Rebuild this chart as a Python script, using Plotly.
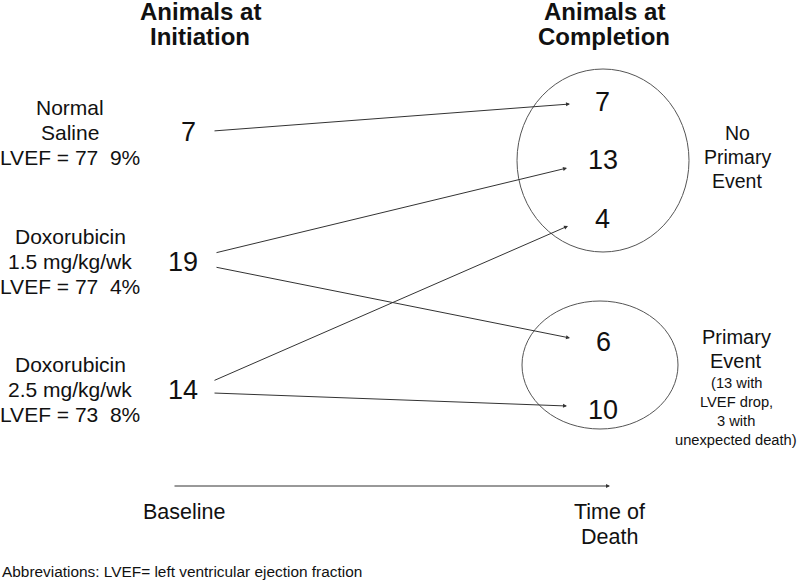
import plotly.graph_objects as go

# ---- data ----
headers = ["<b>Animals at<br>Initiation</b>", "<b>Animals at<br>Completion</b>"]
groups = ["Normal<br>Saline<br>LVEF = 77  9%",
          "Doxorubicin<br>1.5 mg/kg/wk<br>LVEF = 77  4%",
          "Doxorubicin<br>2.5 mg/kg/wk<br>LVEF = 73  8%"]
initial_counts = ["7", "19", "14"]
no_event_counts = ["7", "13", "4"]
event_counts = ["6", "10"]
outcome_labels = ["No<br>Primary<br>Event", "Primary<br>Event"]
event_note = "(13 with<br>LVEF drop,<br>3 with<br>unexpected death)"
timeline_labels = ["Baseline", "Time of<br>Death"]
footnote = "Abbreviations: LVEF= left ventricular ejection fraction"

# ---- layout positions (pixel-like coordinates) ----
FONT = "Arial, Liberation Sans, sans-serif"
COL = "#111111"
header_pos = [(200, 24), (604, 24)]
group_pos = [(70, 132), (70, 261), (70, 389)]
init_pos = [(188, 132), (183, 262), (183, 390)]
no_event_pos = [(602, 102), (603, 160), (602, 219)]
event_pos = [(603, 342), (603, 410)]
outcome_pos = [(737, 157), (736, 349)]
note_pos = (736, 411)
circles = [(517, 69, 689, 252), (522, 301, 678, 429)]
# arrows: (tail_x, tail_y, head_x, head_y)
flows = [(213, 131, 570, 104),
         (215, 253, 567, 168),
         (215, 267, 570, 338),
         (213, 381, 568, 226),
         (213, 393, 567, 406)]
timeline = (173, 486, 610, 486)
timeline_pos = [(184, 512), (609, 524)]

fig = go.Figure()
fig.add_trace(go.Scatter(x=[0, 800], y=[0, 581], mode="markers",
                         marker=dict(opacity=0), hoverinfo="skip", showlegend=False))

ann = []
def line_txt(x, y, t, size, xanchor="center"):
    ann.append(dict(x=x, y=y, xref="x", yref="y", text=t, showarrow=False,
                    xanchor=xanchor, yanchor="middle",
                    font=dict(family=FONT, size=size, color=COL)))

def txt(x, y, t, size, spacing, xanchor="center"):
    bold = t.startswith("<b>")
    t = t.replace("<b>", "").replace("</b>", "")
    lines = t.split("<br>")
    n = len(lines)
    for i, ln in enumerate(lines):
        yy = y + (i - (n - 1) / 2) * spacing
        line_txt(x, yy, f"<b>{ln}</b>" if bold else ln, size, xanchor)

for (x, y), t in zip(header_pos, headers):
    txt(x, y, t, 24, 25)
for (x, y), t in zip(group_pos, groups):
    txt(x, y, t, 21, 25)
for (x, y), t in zip(init_pos, initial_counts):
    txt(x, y, t, 27, 25)
for (x, y), t in zip(no_event_pos, no_event_counts):
    txt(x, y, t, 27, 25)
for (x, y), t in zip(event_pos, event_counts):
    txt(x, y, t, 27, 25)
txt(outcome_pos[0][0], outcome_pos[0][1], outcome_labels[0], 19.5, 24)
txt(outcome_pos[1][0], outcome_pos[1][1], outcome_labels[1], 20, 24)
txt(note_pos[0], note_pos[1], event_note, 14.7, 19)
for (x, y), t in zip(timeline_pos, timeline_labels):
    txt(x, y, t, 21.5, 25)
line_txt(0, 571, footnote, 15.4, xanchor="left")

for tx, ty, hx, hy in flows + [timeline]:
    ann.append(dict(x=hx, y=hy, ax=tx, ay=ty, xref="x", yref="y",
                    axref="x", ayref="y", text="", showarrow=True,
                    arrowhead=2, arrowsize=0.8, arrowwidth=1, arrowcolor="#333333"))

shapes = []
for x0, y0, x1, y1 in circles:
    shapes.append(dict(type="circle", xref="x", yref="y", x0=x0, y0=y0, x1=x1, y1=y1,
                       line=dict(color="#555555", width=1)))

fig.update_layout(
    width=800, height=581, margin=dict(l=0, r=0, t=0, b=0),
    paper_bgcolor="white", plot_bgcolor="white",
    xaxis=dict(range=[0, 800], visible=False, fixedrange=True),
    yaxis=dict(range=[581, 0], visible=False, fixedrange=True),
    annotations=ann, shapes=shapes, showlegend=False,
)
fig.write_html("out.html", config={"displayModeBar": False},
               post_script="document.body.style.margin='0';document.body.style.overflow='hidden';")
